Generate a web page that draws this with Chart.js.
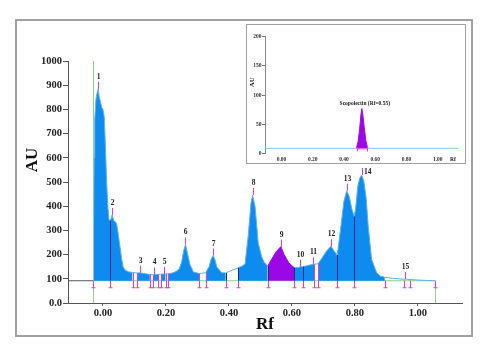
<!DOCTYPE html>
<html>
<head>
<meta charset="utf-8">
<script src="https://cdn.jsdelivr.net/npm/chart.js@4.4.0/dist/chart.umd.min.js"></script>
<style>
  html, body { margin: 0; padding: 0; background: #fff; }
  #wrap { position: relative; width: 486px; height: 352px; overflow: hidden; }
  #main { position: absolute; left: 0; top: 0; }
  #frame { position: absolute; left: 15px; top: 19px; width: 458px; height: 318px; border: 2px solid #a0a0a0; box-sizing: border-box; pointer-events: none; }
  #insetBox { position: absolute; left: 246px; top: 24px; width: 220px; height: 140px; border: 1px solid #a0a0a0; box-sizing: border-box; background: #fff; }
  #inset { position: absolute; left: 0; top: 0; }
</style>
</head>
<body>
<div id="wrap">
  <canvas id="main" width="486" height="352"></canvas>
  <div id="frame"></div>
  <div id="insetBox"><canvas id="inset" width="218" height="138"></canvas></div>
</div>
<script>
// ---- main densitogram (sample track) ----
const rfValues = [
  -0.031, -0.030, -0.028, -0.026, -0.022, -0.018, -0.015, -0.012, -0.008, -0.004,
  0.000, 0.004, 0.008, 0.012, 0.016, 0.019, 0.022, 0.026, 0.029, 0.034,
  0.038, 0.043, 0.048, 0.054, 0.059, 0.064, 0.070, 0.080, 0.094, 0.109,
  0.117, 0.130, 0.149, 0.160, 0.162, 0.176, 0.184, 0.194, 0.199, 0.207,
  0.220, 0.232, 0.242, 0.250, 0.256, 0.262, 0.270, 0.276, 0.287, 0.306,
  0.316, 0.326, 0.337, 0.343, 0.350, 0.356, 0.361, 0.377, 0.390, 0.405,
  0.420, 0.430, 0.441, 0.451, 0.461, 0.470, 0.475, 0.483, 0.493, 0.504,
  0.512, 0.523, 0.535, 0.550, 0.565, 0.575, 0.590, 0.607, 0.620, 0.627,
  0.634, 0.650, 0.668, 0.671, 0.683, 0.695, 0.710, 0.724, 0.735, 0.744,
  0.752, 0.758, 0.765, 0.774, 0.782, 0.790, 0.798, 0.803, 0.809, 0.815,
  0.821, 0.828, 0.836, 0.842, 0.853, 0.869, 0.880, 0.895, 0.920, 0.956,
  0.959, 0.975, 1.000, 1.030, 1.054
];
const auValues = [
  95, 320, 600, 760, 845, 872, 885, 852, 832, 808,
  800, 770, 640, 490, 390, 346, 340, 348, 364, 342,
  336, 330, 290, 233, 185, 150, 136, 129, 126, 124,
  125, 122, 118, 117, 118, 118, 119, 120, 120, 121,
  124, 130, 140, 170, 215, 242, 195, 160, 128, 122,
  123, 125, 150, 180, 196, 178, 150, 125, 124, 133,
  140, 146, 152, 160, 274, 412, 446, 398, 247, 191,
  168, 152, 180, 212, 233, 200, 166, 146, 147, 150,
  150, 155, 160, 160, 162, 185, 215, 235, 213, 198,
  280, 343, 420, 464, 440, 390, 357, 400, 481, 515,
  529, 505, 430, 320, 180, 125, 112, 106, 102, 98,
  99, 97, 95, 93, 92
];

const peakNumbers = ['1', '2', '3', '4', '5', '6', '7', '8', '9', '10', '11', '12', '13', '14', '15'];
const peakRf = [-0.015, 0.029, 0.117, 0.162, 0.194, 0.262, 0.350, 0.475, 0.565, 0.627, 0.668, 0.724, 0.774, 0.821, 0.959];
const peakAu = [885, 364, 125, 118, 120, 242, 196, 446, 233, 150, 160, 235, 464, 529, 99];

const baselineAu = 92;
const scanStart = -0.031;
const scanEnd = 1.054;
const bandEdges = [-0.031, 0.022, 0.094, 0.109, 0.149, 0.160, 0.176, 0.184, 0.199, 0.207, 0.306, 0.326,
  0.390, 0.430, 0.523, 0.607, 0.634, 0.671, 0.683, 0.744, 0.798, 0.895, 0.956, 0.975, 1.054];
const splitRf = [0.022, 0.390, 0.430, 0.523, 0.607, 0.634, 0.744, 0.798];
const gapEdgeRf = [0.094, 0.109, 0.149, 0.160, 0.176, 0.184, 0.199, 0.207, 0.306, 0.326, 0.671, 0.683];
const filledBands = [[-0.031, 0.094], [0.109, 0.149], [0.160, 0.176], [0.184, 0.199], [0.207, 0.306],
  [0.326, 0.390], [0.430, 0.671], [0.683, 0.895]];
const scopoletinBand = [0.523, 0.607];

const xMin = -0.111, xMax = 1.14;
const xTicks = [0, 0.2, 0.4, 0.6, 0.8, 1.0];
const xTickLabels = ['0.00', '0.20', '0.40', '0.60', '0.80', '1.00'];
const yTicks = [0, 100, 200, 300, 400, 500, 600, 700, 800, 900, 1000];
const yTickLabels = ['0.0', '100', '200', '300', '400', '500', '600', '700', '800', '900', '1000'];

// ---- inset: scopoletin standard ----
const stdRf = [-0.106, 0.470, 0.480, 0.490, 0.500, 0.508, 0.514, 0.520, 0.530, 0.540, 0.550, 0.560, 1.130];
const stdAu = [9, 9, 10, 20, 42, 66, 77, 68, 44, 22, 11, 9, 9];
const stdBaseline = 9;
const stdBand = [0.480, 0.550];
const stdLabel = 'Scopolectin (Rf=0.55)';
const stdYTicks = [0, 50, 100, 150, 200];
const stdXTicks = [0, 0.2, 0.4, 0.6, 0.8, 1.0];
const stdXTickLabels = ['0.00', '0.20', '0.40', '0.60', '0.80', '1.00'];

const SERIF = "'Liberation Serif', 'DejaVu Serif', serif";
const BLUE = '#0d8bee';
const PURPLE = '#9a08e8';
const MAGENTA = '#de3fc6';
const NAVY = '#1b2a86';
const GREEN = '#8fcf8f';

const mainPoints = rfValues.map((rf, i) => ({ x: rf, y: auValues[i] }));

function auAt(rf) {
  for (let i = 1; i < rfValues.length; i++) {
    if (rf <= rfValues[i]) {
      const t = (rf - rfValues[i - 1]) / (rfValues[i] - rfValues[i - 1]);
      return auValues[i - 1] + t * (auValues[i] - auValues[i - 1]);
    }
  }
  return auValues[auValues.length - 1];
}

function bandColor(ctx) {
  const m = (rfValues[ctx.p0DataIndex] + rfValues[ctx.p1DataIndex]) / 2;
  if (m > scopoletinBand[0] && m < scopoletinBand[1]) return PURPLE;
  for (const b of filledBands) {
    if (m > b[0] && m < b[1]) return BLUE;
  }
  return 'rgba(0,0,0,0)';
}

function vline(ctx, x, y0, y1) {
  ctx.beginPath();
  ctx.moveTo(x, y0);
  ctx.lineTo(x, y1);
  ctx.stroke();
}

const mainMarks = {
  id: 'mainMarks',
  afterDatasetsDraw(chart) {
    const { ctx, scales: { x, y }, chartArea } = chart;
    const yb = y.getPixelForValue(baselineAu);
    ctx.save();
    ctx.lineWidth = 1;

    // scan limits
    ctx.strokeStyle = GREEN;
    vline(ctx, Math.round(x.getPixelForValue(scanStart)) + 0.5, y.getPixelForValue(0), y.getPixelForValue(1000));
    vline(ctx, Math.round(x.getPixelForValue(scanEnd)) + 0.5, y.getPixelForValue(0), yb);

    // peak splits
    ctx.strokeStyle = NAVY;
    splitRf.forEach(rf => {
      const px = Math.round(x.getPixelForValue(rf)) + 0.5;
      vline(ctx, px, yb, y.getPixelForValue(auAt(rf)));
    });
    ctx.strokeStyle = MAGENTA;
    gapEdgeRf.forEach(rf => {
      const px = Math.round(x.getPixelForValue(rf)) + 0.5;
      vline(ctx, px, yb, y.getPixelForValue(auAt(rf)));
    });

    // integration brackets under the baseline
    bandEdges.forEach(rf => {
      const px = Math.round(x.getPixelForValue(rf)) + 0.5;
      vline(ctx, px, yb, yb + 7);
      ctx.beginPath();
      ctx.moveTo(px - 2, yb + 7);
      ctx.lineTo(px + 2, yb + 7);
      ctx.stroke();
    });

    // peak ticks and numbers (the tallest label sits beside its tick, under the inset)
    ctx.font = 'bold 7.5px ' + SERIF;
    ctx.fillStyle = '#222';
    ctx.textBaseline = 'middle';
    peakRf.forEach((rf, i) => {
      const px = Math.round(x.getPixelForValue(rf)) + 0.5;
      const py = y.getPixelForValue(peakAu[i]);
      ctx.strokeStyle = MAGENTA;
      vline(ctx, px, py, py - 7);
      if (peakNumbers[i] === '14') {
        ctx.textAlign = 'left';
        ctx.fillText(peakNumbers[i], px + 1.5, py - 3);
      } else {
        ctx.textAlign = 'center';
        ctx.fillText(peakNumbers[i], px, py - 12);
      }
    });

    // y title
    ctx.textAlign = 'center';
    ctx.font = 'bold 17px ' + SERIF;
    ctx.fillStyle = '#111';
    ctx.translate(chartArea.left - 35, (chartArea.top + chartArea.bottom) / 2 - 22);
    ctx.rotate(-Math.PI / 2);
    ctx.fillText('AU', 0, 0);
    ctx.restore();
  }
};

const tickFont = { family: SERIF, size: 10.5, weight: 'bold' };

new Chart(document.getElementById('main'), {
  type: 'line',
  data: {
    datasets: [
      {
        data: mainPoints,
        borderColor: '#5cb2e6',
        borderWidth: 1,
        pointRadius: 0,
        fill: false,
        order: 1,
        segment: {
          borderColor: ctx => {
            const m = (rfValues[ctx.p0DataIndex] + rfValues[ctx.p1DataIndex]) / 2;
            return (m > scopoletinBand[0] && m < scopoletinBand[1]) ? PURPLE : '#5cb2e6';
          }
        }
      },
      {
        data: mainPoints,
        borderColor: 'rgba(0,0,0,0)',
        borderWidth: 0,
        pointRadius: 0,
        backgroundColor: BLUE,
        fill: { value: baselineAu },
        order: 2,
        segment: { backgroundColor: bandColor, borderColor: 'rgba(0,0,0,0)' }
      },
      {
        data: [{ x: scanStart, y: baselineAu }, { x: scanEnd, y: baselineAu }],
        borderColor: GREEN,
        borderWidth: 1,
        pointRadius: 0,
        fill: false,
        order: 3
      },
      {
        data: [{ x: xMin, y: baselineAu }, { x: scanStart, y: baselineAu }],
        borderColor: '#555',
        borderWidth: 1,
        pointRadius: 0,
        fill: false,
        order: 3
      }
    ]
  },
  options: {
    responsive: false,
    animation: false,
    devicePixelRatio: 1,
    layout: { padding: { left: 20, right: 24, top: 61, bottom: 0 } },
    plugins: { legend: { display: false }, tooltip: { enabled: false } },
    scales: {
      x: {
        type: 'linear',
        min: xMin,
        max: xMax,
        afterBuildTicks: s => { s.ticks = xTicks.map(v => ({ value: v })); },
        afterFit: s => { s.height = 49; },
        ticks: {
          callback: v => xTickLabels[xTicks.indexOf(v)],
          font: tickFont, color: '#222', padding: 1, maxRotation: 0, autoSkip: false
        },
        grid: { display: true, drawOnChartArea: false, tickLength: 3, color: '#555' },
        border: { color: '#555', width: 1 },
        title: {
          display: true, text: 'Rf', color: '#111',
          font: { family: SERIF, size: 17, weight: 'bold' },
          padding: { top: 0, bottom: 17 }
        }
      },
      y: {
        type: 'linear',
        min: 0,
        max: 1000,
        afterBuildTicks: s => { s.ticks = yTicks.map(v => ({ value: v })); },
        afterFit: s => { s.width = 48; },
        ticks: {
          callback: v => yTickLabels[yTicks.indexOf(v)],
          font: tickFont, color: '#222', padding: 1, autoSkip: false
        },
        grid: { display: true, drawOnChartArea: false, tickLength: 5, color: '#555' },
        border: { color: '#555', width: 1 }
      }
    }
  },
  plugins: [mainMarks]
});

// ---- inset chart ----
const stdPoints = stdRf.map((rf, i) => ({ x: rf, y: stdAu[i] }));
const smallFont = { family: SERIF, size: 5.5, weight: 'bold' };

const insetMarks = {
  id: 'insetMarks',
  afterDatasetsDraw(chart) {
    const { ctx, scales: { x, y }, chartArea } = chart;
    const yb = y.getPixelForValue(stdBaseline);
    ctx.save();
    ctx.lineWidth = 1;
    ctx.strokeStyle = MAGENTA;
    stdBand.forEach(rf => {
      const px = Math.round(x.getPixelForValue(rf)) + 0.5;
      vline(ctx, px, yb - 1, yb + 3);
    });
    ctx.beginPath();
    ctx.moveTo(x.getPixelForValue(stdBand[0]), yb + 0.5);
    ctx.lineTo(x.getPixelForValue(stdBand[1]), yb + 0.5);
    ctx.stroke();

    let top = 0;
    stdAu.forEach((v, i) => { if (v > stdAu[top]) top = i; });
    ctx.fillStyle = '#222';
    ctx.font = 'bold 5.5px ' + SERIF;
    ctx.textAlign = 'center';
    ctx.textBaseline = 'middle';
    ctx.fillText(stdLabel, x.getPixelForValue(stdRf[top]) + 3, y.getPixelForValue(stdAu[top]) - 5);

    // x tick labels, placed by the x scale
    ctx.fillStyle = '#333';
    stdXTicks.forEach((v, i) => {
      ctx.fillText(stdXTickLabels[i], x.getPixelForValue(v), chartArea.bottom + 5.5);
    });
    ctx.fillStyle = '#222';
    ctx.fillText('Rf', chartArea.right - 5, chartArea.bottom + 5.5);

    ctx.font = 'bold 7px ' + SERIF;
    ctx.translate(chartArea.left - 12.5, (chartArea.top + chartArea.bottom) / 2 - 13);
    ctx.rotate(-Math.PI / 2);
    ctx.fillText('AU', 0, 0);
    ctx.restore();
  }
};

new Chart(document.getElementById('inset'), {
  type: 'line',
  data: {
    datasets: [{
      data: stdPoints,
      borderColor: '#8cc4e4',
      borderWidth: 1,
      pointRadius: 0,
      backgroundColor: PURPLE,
      fill: { value: stdBaseline },
      segment: {
        borderColor: ctx => {
          const m = (stdRf[ctx.p0DataIndex] + stdRf[ctx.p1DataIndex]) / 2;
          return (m > stdBand[0] && m < stdBand[1]) ? PURPLE : '#8cc4e4';
        }
      }
    }]
  },
  options: {
    responsive: false,
    animation: false,
    devicePixelRatio: 1,
    layout: { padding: { left: 0, right: 7, top: 11.7, bottom: 0 } },
    plugins: { legend: { display: false }, tooltip: { enabled: false } },
    scales: {
      x: {
        type: 'linear',
        min: -0.106,
        max: 1.13,
        afterBuildTicks: s => { s.ticks = stdXTicks.map(v => ({ value: v })); },
        afterFit: s => { s.height = 9.4; },
        ticks: { display: false },
        grid: { display: false },
        border: { display: false }
      },
      y: {
        type: 'linear',
        min: 0,
        max: 200,
        afterBuildTicks: s => { s.ticks = stdYTicks.map(v => ({ value: v })); },
        afterFit: s => { s.width = 18; },
        ticks: {
          callback: v => String(v),
          font: smallFont, color: '#333', padding: 0.5, autoSkip: false
        },
        grid: { display: true, drawOnChartArea: false, tickLength: 3, color: '#777' },
        border: { color: '#888', width: 1 }
      }
    }
  },
  plugins: [insetMarks]
});
</script>
</body>
</html>
